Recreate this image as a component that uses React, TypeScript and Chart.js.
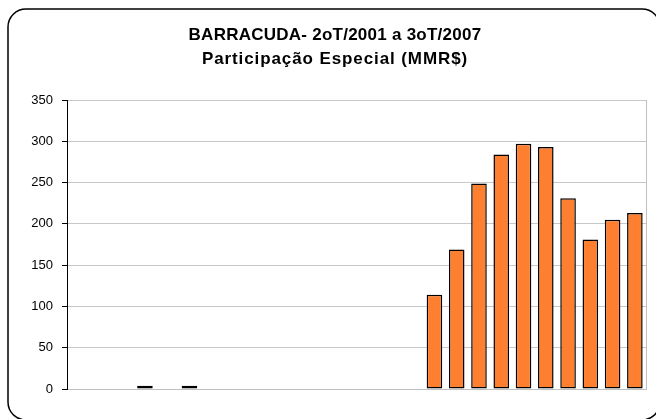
import React, { useEffect, useRef } from "react";
import { Chart, registerables } from "chart.js";

Chart.register(...registerables);

const titleLines = ["BARRACUDA- 2oT/2001 a 3oT/2007", "Participação Especial (MMR$)"];

const quarters = [
  "2oT/2001", "3oT/2001", "4oT/2001",
  "1oT/2002", "2oT/2002", "3oT/2002", "4oT/2002",
  "1oT/2003", "2oT/2003", "3oT/2003", "4oT/2003",
  "1oT/2004", "2oT/2004", "3oT/2004", "4oT/2004",
  "1oT/2005", "2oT/2005", "3oT/2005", "4oT/2005",
  "1oT/2006", "2oT/2006", "3oT/2006", "4oT/2006",
  "1oT/2007", "2oT/2007", "3oT/2007",
];

const participacaoEspecial = [
  0, 0, 0,
  4, 0, 4, 0,
  0, 0, 0, 0,
  0, 0, 0, 0,
  0, 114, 169, 249,
  284, 297, 293, 231,
  181, 205, 213,
];

const yMin = 0;
const yMax = 350;
const yStep = 50;

const FONT = 'Arial, "Liberation Sans", sans-serif';

const framePlugin = {
  id: "frame",
  beforeDraw(chart: any) {
    const ctx = chart.ctx;
    ctx.save();
    ctx.fillStyle = "#ffffff";
    ctx.fillRect(0, 0, chart.width, chart.height);
    const x = 8, y = 9, w = 652, h = 411, r = 18;
    ctx.beginPath();
    ctx.moveTo(x + r, y);
    ctx.lineTo(x + w - r, y);
    ctx.arcTo(x + w, y, x + w, y + r, r);
    ctx.lineTo(x + w, y + h - r);
    ctx.arcTo(x + w, y + h, x + w - r, y + h, r);
    ctx.lineTo(x + r, y + h);
    ctx.arcTo(x, y + h, x, y + h - r, r);
    ctx.lineTo(x, y + r);
    ctx.arcTo(x, y, x + r, y, r);
    ctx.closePath();
    ctx.lineWidth = 1.5;
    ctx.strokeStyle = "#000000";
    ctx.stroke();

    // title (two lines, slightly letter-spaced like the original)
    ctx.fillStyle = "#000000";
    ctx.font = `bold 17px ${FONT}`;
    ctx.textAlign = "center";
    ctx.textBaseline = "alphabetic";
    const spacings = ["0.25px", "0.9px"];
    const baselines = [39.5, 63.5];
    titleLines.forEach((line, i) => {
      (ctx as any).letterSpacing = spacings[i];
      ctx.fillText(line, 335, baselines[i]);
    });
    (ctx as any).letterSpacing = "0px";
    ctx.restore();
  },
};

export default function App() {
  const canvasRef = useRef<HTMLCanvasElement | null>(null);

  useEffect(() => {
    const canvas = canvasRef.current;
    if (!canvas) return;
    const chart = new Chart(canvas, {
      type: "bar",
      data: {
        labels: quarters,
        datasets: [
          {
            label: "Participação Especial (MMR$)",
            data: participacaoEspecial,
            backgroundColor: "#FF7F30",
            borderColor: "#000000",
            borderWidth: 1.5,
            borderSkipped: false,
            categoryPercentage: 1,
            barPercentage: 0.7,
          },
        ],
      },
      options: {
        responsive: false,
        animation: false,
        devicePixelRatio: 1,
        layout: { padding: { top: 100, left: 0, right: 10, bottom: 0 } },
        plugins: {
          legend: { display: false },
          tooltip: { enabled: false },
          title: { display: false },
        },
        scales: {
          x: {
            type: "category",
            offset: true,
            grid: { display: false },
            border: { display: true, color: "#c0c0c0", width: 1 },
            ticks: { display: false },
            afterFit(scale: any) {
              scale.height = 30;
            },
          },
          y: {
            position: "left",
            min: yMin,
            max: yMax,
            ticks: {
              stepSize: yStep,
              color: "#000000",
              padding: 9,
              font: { family: FONT, size: 13 },
            },
            grid: {
              color: "#c8c8c8",
              tickColor: "#000000",
              tickLength: 5,
              lineWidth: 1,
            },
            border: { display: true, color: "#000000", width: 1 },
            afterFit(scale: any) {
              scale.width = 67;
            },
          },
          y2: {
            position: "right",
            min: yMin,
            max: yMax,
            ticks: { display: false },
            grid: { display: false },
            border: { display: true, color: "#c0c0c0", width: 1 },
            afterFit(scale: any) {
              scale.width = 0;
            },
          },
        },
      },
      plugins: [framePlugin],
    });
    return () => chart.destroy();
  }, []);

  return (
    <div style={{ position: "absolute", left: 0, top: 0, width: 656, height: 419 }}>
      <canvas ref={canvasRef} width={656} height={419} />
    </div>
  );
}
